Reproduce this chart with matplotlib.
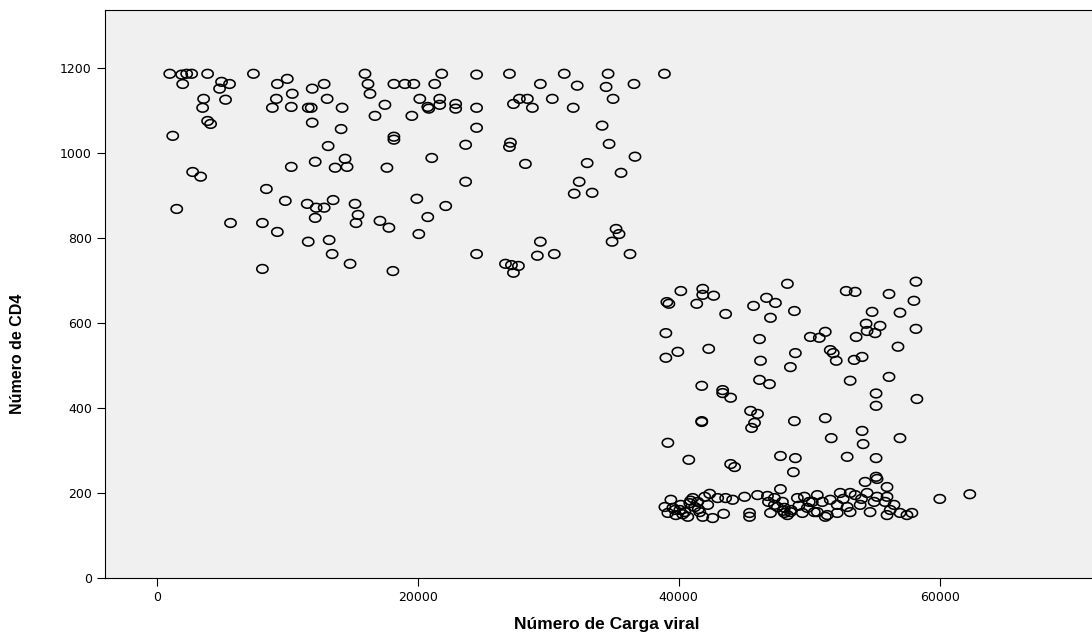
import matplotlib
matplotlib.use("Agg")
import matplotlib.pyplot as plt
import numpy as np
from matplotlib.path import Path

# Upper cluster (carga viral, CD4)
up_x = [992, 1908, 2290, 2672, 3893, 1985, 4962, 5573, 4810, 3588, 5267, 3512, 3893, 4122, 1221,
        7405, 9237, 10000, 10382, 11909, 9161, 8855, 10306, 11604, 11833, 11909, 10306, 12138, 2748, 3359,
        15955, 12825, 16184, 16337, 18169, 19009, 19696, 21299, 21833, 24505, 13054, 14199, 17482, 16719,
        20154, 20765, 20841, 21681, 21681, 22902, 22902, 24505, 19543, 14123, 24505, 18169, 18169, 13130,
        23666, 14428, 21070, 13665, 14581, 17635, 27024, 31223, 34582, 38900, 29391, 32216, 34430, 36567,
        27788, 28398, 27330, 28780, 30307, 31910, 34964, 34124, 27101, 27024, 34659, 36644, 28246, 32979,
        35575, 32368, 31987, 33361, 35193, 35422, 34888, 36262, 29391, 29162, 30460, 26719, 27177, 27712,
        27330, 1527, 8397, 9848, 11528, 12214, 12138, 5649, 8092, 9237, 11604, 8092, 23666, 13512, 12825,
        15192, 15421, 15268, 17100, 17787, 19925, 22139, 20765, 20078, 13207, 13436, 14810, 18093, 24505]
up_y = [1186, 1184, 1186, 1186, 1186, 1162, 1167, 1162, 1151, 1127, 1125, 1106, 1075, 1068, 1040,
        1186, 1162, 1174, 1139, 1151, 1127, 1106, 1108, 1106, 1106, 1071, 967, 979, 955, 944,
        1186, 1162, 1162, 1139, 1162, 1162, 1162, 1162, 1186, 1184, 1127, 1106, 1113, 1087,
        1127, 1108, 1104, 1127, 1113, 1115, 1104, 1106, 1087, 1056, 1059, 1038, 1031, 1016,
        1019, 986, 988, 965, 967, 965, 1186, 1186, 1186, 1186, 1162, 1158, 1155, 1162,
        1127, 1127, 1115, 1106, 1127, 1106, 1127, 1064, 1024, 1014, 1021, 991, 974, 976,
        953, 932, 904, 906, 821, 809, 791, 762, 791, 758, 762, 739, 736, 734,
        718, 868, 915, 887, 880, 871, 847, 835, 835, 814, 791, 727, 932, 889, 871,
        880, 854, 835, 840, 824, 892, 875, 849, 809, 795, 762, 739, 722, 762]

# Lower cluster, scattered part
lo_x = [40155, 41834, 41834, 42674, 39086, 39239, 41376, 43590, 48323, 46720, 47407, 45727, 48858, 47025,
        39010, 46186, 50079, 39926, 39010, 42293, 48934, 46262, 48552, 46186, 46949, 41758, 43361,
        58171, 52827, 53514, 56110, 58018, 54812, 56950, 54354, 55423, 54430, 55041, 53591, 51224, 50766,
        58171, 56797, 51606, 51835, 52064, 53438, 54048, 53132, 56110, 55118, 43361, 43972, 45498, 46033,
        45804, 45575, 41758, 41758, 48858, 39163, 40766, 43972, 44277, 47789, 48934, 48781,
        55118, 58247, 51224, 54048, 51682, 54125, 56950, 52903, 55118, 55118]
lo_y = [675, 680, 666, 664, 649, 645, 645, 621, 692, 659, 647, 640, 628, 612,
        576, 562, 567, 532, 518, 539, 529, 511, 496, 466, 456, 452, 442,
        697, 675, 673, 668, 652, 626, 624, 598, 593, 581, 576, 567, 579, 565,
        586, 544, 536, 529, 511, 513, 520, 464, 473, 434, 435, 424, 393, 386,
        365, 353, 369, 367, 369, 318, 278, 268, 261, 287, 282, 249,
        405, 421, 376, 346, 329, 315, 329, 285, 282, 238]

# Lower cluster, dense band near CD4 ~ 150-230
band_x = [39392, 38934, 39163, 39774, 40461, 40155, 41071, 41223, 41987, 42368, 42979, 43590, 44124,
          45040, 46033, 46796, 47789, 47331, 47560, 48094, 48323, 47025, 49087, 49621, 50003, 41834,
          42597, 43437, 45422, 45422, 49468, 50614, 41605, 40690, 39545, 40843, 40079, 41452, 42216,
          47331, 47942, 48094, 48552, 46872,
          54277, 55194, 55957, 60000, 62300, 50614, 50232, 50995, 51606, 52369, 53132, 53514, 54430,
          55194, 55957, 52140, 52903, 53896, 54965, 55805, 56492, 50385, 51377, 52140, 53132, 54659,
          55957, 56950, 57484, 57865, 51224, 49850,
          39700, 40300, 40900, 41500, 48600, 49200, 48000, 52600, 54000, 56200]
band_y = [184, 167, 153, 148, 155, 172, 188, 167, 191, 198, 188, 188, 184,
          191, 195, 193, 209, 188, 167, 165, 148, 153, 188, 191, 179, 144,
          141, 151, 153, 144, 153, 155, 155, 144, 165, 176, 160, 179, 172,
          172, 179, 153, 155, 179,
          226, 233, 214, 186, 197, 195, 179, 179, 184, 200, 200, 195, 200,
          191, 191, 172, 167, 172, 179, 179, 172, 155, 148, 153, 155, 155,
          148, 153, 148, 153, 144, 165,
          160, 150, 182, 162, 160, 170, 158, 186, 186, 160]

x_all = up_x + lo_x + band_x
y_all = up_y + lo_y + band_y

y_ticks = [0, 200, 400, 600, 800, 1000, 1200]
x_ticks = [0, 20000, 40000, 60000]

fig = plt.figure(figsize=(10.92, 6.37), dpi=100)
ax = fig.add_axes([105/1092, 59/637, 1 - 105/1092 + 0.01, (578-10)/637])
ax.set_facecolor("#F0F0F0")

t = np.linspace(0, 2*np.pi, 41)
ell = Path(np.column_stack([1.3*np.cos(t), np.sin(t)]))
ax.scatter(x_all, y_all, marker=ell, s=66, facecolors="none", edgecolors="black", linewidths=1.15)

ax.set_xlim(-3970, 72500)
ax.set_ylim(0, 1336)
ax.set_xticks(x_ticks)
ax.set_yticks(y_ticks)
ax.tick_params(labelsize=9, length=6, width=0.8, color="black")
ax.spines["right"].set_visible(False)
for s in ["left", "bottom", "top"]:
    ax.spines[s].set_color("black")
    ax.spines[s].set_linewidth(0.8)

ax.set_xlabel("Número de Carga viral", fontsize=12.5, fontweight="bold",
              family=["Liberation Sans", "DejaVu Sans"])
ax.xaxis.set_label_coords(0.503, -0.068)
ax.set_ylabel("Número de CD4", fontsize=11.5, fontweight="bold",
              family=["Liberation Sans Narrow", "Liberation Sans", "DejaVu Sans"])
ax.yaxis.set_label_coords(-0.080, 0.394)

fig.savefig("out.png", dpi=100)
